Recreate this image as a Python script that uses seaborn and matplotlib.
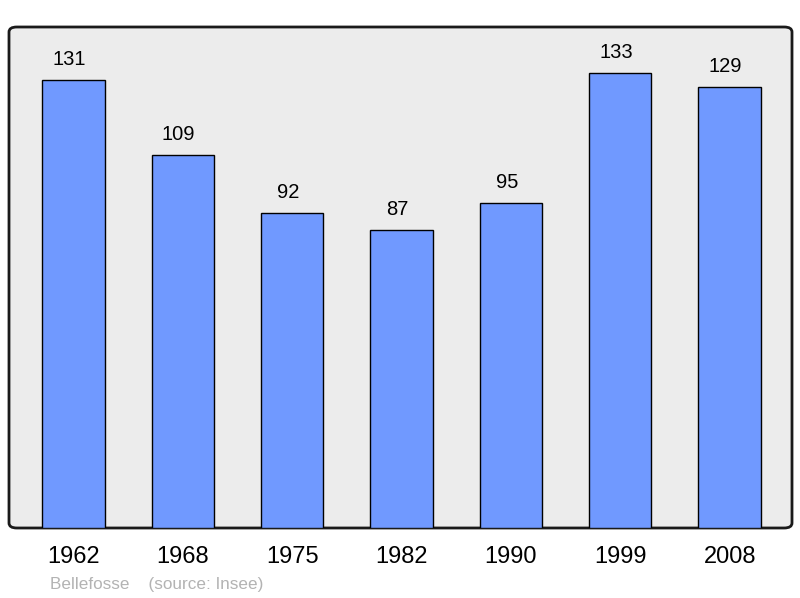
import matplotlib
matplotlib.use('Agg')
import matplotlib.pyplot as plt
import seaborn as sns
import pandas as pd
from matplotlib.patches import FancyBboxPatch

# population data
years = ['1962', '1968', '1975', '1982', '1990', '1999', '2008']
population = [131, 109, 92, 87, 95, 133, 129]

df = pd.DataFrame({'annee': years, 'pop': population})

sns.set_style('white')
plt.rcParams['font.family'] = ['Liberation Sans', 'DejaVu Sans']

fig = plt.figure(figsize=(8, 5.98), dpi=100)
ax = fig.add_axes([9 / 800, 70 / 598, 783 / 800, 501 / 598])
ax.set_facecolor('none')

# rounded grey frame behind the bars
frame = FancyBboxPatch((0, 0), 1, 1,
                       boxstyle='round,pad=0,rounding_size=0.01',
                       transform=ax.transAxes, facecolor='#ececec',
                       edgecolor='#1a1a1a', linewidth=2, zorder=0, clip_on=False)
ax.add_patch(frame)

sns.barplot(data=df, x='annee', y='pop', color='#7099ff', saturation=1,
            edgecolor='black', linewidth=1, width=0.57, ax=ax, zorder=2)

for i, v in enumerate(population):
    ax.annotate(str(v), (i, v), xytext=(-3, 15), textcoords='offset points',
                ha='center', va='center', fontsize=14.5, color='black')

ax.set_xlim(-0.59, 6.57)
ax.set_ylim(0, 146.5)
ax.set_xlabel('')
ax.set_ylabel('')
ax.set_yticks([])
ax.tick_params(axis='x', length=0, labelsize=17, pad=13, labelcolor='black')
for s in ax.spines.values():
    s.set_visible(False)

fig.text(50 / 800, 1 - 584 / 598, 'Bellefosse    (source: Insee)', fontsize=12.3,
         color='#b3b3b3', va='center', ha='left')

fig.savefig('out.png', dpi=100)
